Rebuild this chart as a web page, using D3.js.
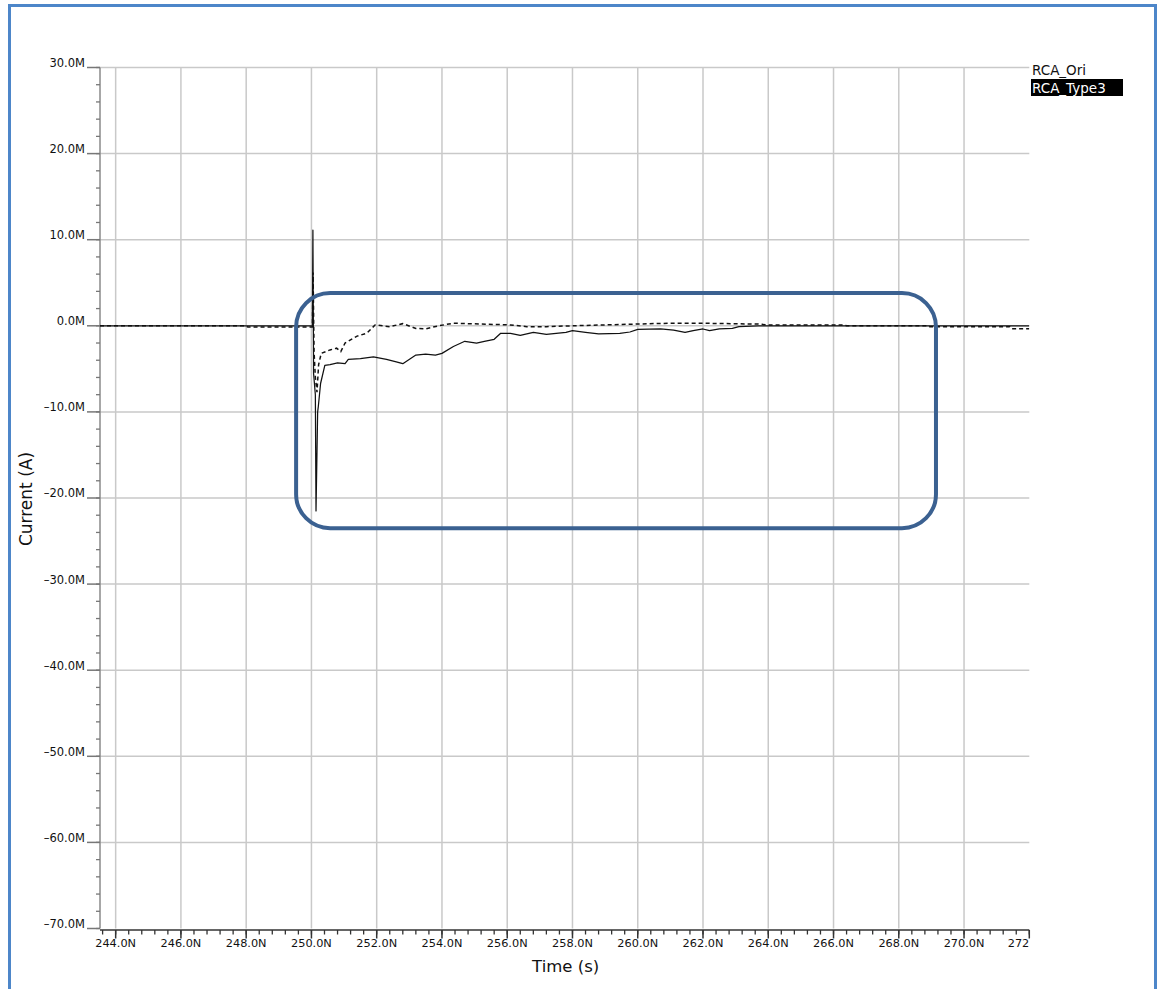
<!DOCTYPE html>
<html><head><meta charset="utf-8">
<script src="https://cdn.jsdelivr.net/npm/d3@7/dist/d3.min.js"></script>
<style>
html,body{margin:0;padding:0;background:#fff;}
svg{display:block;font-family:"DejaVu Sans",sans-serif;}
</style></head>
<body><svg id="chart" width="1159" height="989"></svg>
<script>
// ---- data (time in ns, current in mA shown as "M") ----
const seriesNames = ["RCA_Ori", "RCA_Type3"];
const xTickValues = [244,246,248,250,252,254,256,258,260,262,264,266,268,270,272];
const xTickLabels = ["244.0N","246.0N","248.0N","250.0N","252.0N","254.0N","256.0N","258.0N","260.0N","262.0N","264.0N","266.0N","268.0N","270.0N","272"];
const yTickValues = [30,20,10,0,-10,-20,-30,-40,-50,-60,-70];
const yTickLabels = ["30.0M","20.0M","10.0M","0.0M","\u201310.0M","\u201320.0M","\u201330.0M","\u201340.0M","\u201350.0M","\u201360.0M","\u201370.0M"];
const oriTime = [243.52,250.03,250.045,250.065,250.12,250.14,250.19,250.21,250.28,250.41,250.57,250.8,251.03,251.13,251.5,251.9,252.3,252.6,252.8,253.2,253.5,253.8,254.0,254.35,254.7,255.06,255.3,255.6,255.8,256.1,256.4,256.8,257.2,257.8,258.0,258.4,258.8,259.45,259.76,260.0,260.7,261.1,261.45,261.7,262.0,262.2,262.5,262.9,263.1,263.7,272];
const oriValue = [0,0,11.1,-5.5,-8,-21.5,-10,-9.4,-6.7,-4.6,-4.5,-4.3,-4.4,-3.9,-3.8,-3.6,-3.9,-4.2,-4.4,-3.4,-3.3,-3.4,-3.2,-2.4,-1.8,-2.0,-1.8,-1.57,-0.87,-0.87,-1.1,-0.76,-1.0,-0.76,-0.57,-0.76,-0.95,-0.87,-0.72,-0.41,-0.37,-0.5,-0.76,-0.57,-0.37,-0.57,-0.37,-0.3,-0.1,0,0];
const type3Time = [243.52,248.0,248.05,250.0,250.03,250.05,250.08,250.12,250.17,250.22,250.3,250.57,250.77,250.9,251.03,251.4,251.7,251.95,252.4,252.8,253.2,253.5,253.9,254.35,256.1,256.6,257.2,258.0,259.9,261.0,261.9,263.7,264.0,266.35,266.4,268.9,268.95,271.4,271.45,272];
const type3Value = [0,0,-0.15,-0.15,-0.15,6.2,-3,-6,-7.7,-4.5,-3.2,-2.8,-2.6,-3.0,-2.0,-1.2,-0.85,0.1,-0.1,0.25,-0.3,-0.35,0,0.3,0.1,-0.1,-0.1,0,0.2,0.3,0.3,0.2,0.1,0.1,0,0,-0.12,-0.12,-0.35,-0.35];
// highlighted region (data units)
const boxTime = [249.53, 269.14];
const boxValue = [3.8, -23.5];

const svg = d3.select("#chart");
const W = 1159, H = 989;
const plot = {left:100, right:1029.3, top:67.5, bottom:928.5};

const x = d3.scaleLinear().domain([243.52, 272]).range([plot.left, plot.right]);
const y = d3.scaleLinear().domain([30, -70]).range([plot.top, plot.bottom]);

// frame
svg.append("rect").attr("x",0).attr("y",0).attr("width",W).attr("height",H).attr("fill","#fff");
svg.append("rect").attr("x",9.5).attr("y",5.5).attr("width",1146).attr("height",1000)
  .attr("fill","none").attr("stroke","#4d86c9").attr("stroke-width",3);

// grid
const grid = svg.append("g");
grid.selectAll("line.v").data(xTickValues.filter(d=>d<272)).enter().append("line")
  .attr("x1",d=>x(d)).attr("x2",d=>x(d)).attr("y1",plot.top).attr("y2",plot.bottom)
  .attr("stroke","#c9c9c9").attr("stroke-width",1.5);
grid.selectAll("line.h").data(yTickValues.filter(d=>d>-70)).enter().append("line")
  .attr("x1",plot.left).attr("x2",plot.right).attr("y1",d=>y(d)).attr("y2",d=>y(d))
  .attr("stroke","#c9c9c9").attr("stroke-width",1.5);

// y axis
const yAxis = svg.append("g");
yAxis.append("line").attr("x1",plot.left).attr("x2",plot.left).attr("y1",plot.top).attr("y2",plot.bottom)
  .attr("stroke","#8a8a8a").attr("stroke-width",1.5);
yAxis.selectAll("line.minor").data(d3.range(30,-70.01,-2)).enter().append("line")
  .attr("x1",plot.left-4).attr("x2",plot.left).attr("y1",d=>y(d)).attr("y2",d=>y(d))
  .attr("stroke","#777").attr("stroke-width",1.3);
yAxis.selectAll("line.major").data(yTickValues).enter().append("line")
  .attr("x1",plot.left-13).attr("x2",plot.left).attr("y1",d=>y(d)).attr("y2",d=>y(d))
  .attr("stroke","#777").attr("stroke-width",1.5);
yAxis.selectAll("text").data(yTickValues).enter().append("text")
  .attr("x",plot.left-15).attr("y",d=>y(d)).attr("dy","-0.05em")
  .attr("text-anchor","end").attr("font-size",11.5).attr("fill","#111")
  .text((d,i)=>yTickLabels[i]);

// x axis
const xAxis = svg.append("g");
const xAxisY = plot.bottom + 1.5;
xAxis.append("line").attr("x1",plot.left).attr("x2",plot.right).attr("y1",xAxisY).attr("y2",xAxisY)
  .attr("stroke","#333").attr("stroke-width",1.5);
xAxis.selectAll("line.minor").data(d3.range(243.6,272.01,0.4)).enter().append("line")
  .attr("x1",d=>x(d)).attr("x2",d=>x(d)).attr("y1",xAxisY).attr("y2",xAxisY+4.5)
  .attr("stroke","#333").attr("stroke-width",1.3);
xAxis.selectAll("line.major").data(xTickValues).enter().append("line")
  .attr("x1",d=>x(d)).attr("x2",d=>x(d)).attr("y1",xAxisY).attr("y2",xAxisY+8.5)
  .attr("stroke","#333").attr("stroke-width",1.5);
xAxis.selectAll("text").data(xTickValues).enter().append("text")
  .attr("x",d=>x(d))
  .attr("y",xAxisY+17)
  .attr("text-anchor",(d,i)=> i===xTickValues.length-1 ? "end" : "middle")
  .attr("font-size",11.3).attr("fill","#111")
  .text((d,i)=>xTickLabels[i]);

// axis titles
svg.append("text").attr("x",(plot.left+plot.right)/2+1).attr("y",972)
  .attr("text-anchor","middle").attr("font-size",16.5).attr("fill","#111").text("Time (s)");
svg.append("text").attr("transform","translate(32,"+((plot.top+plot.bottom)/2+1)+") rotate(-90)")
  .attr("text-anchor","middle").attr("font-size",17).attr("fill","#111").text("Current (A)");

// clip
svg.append("clipPath").attr("id","clip").append("rect")
  .attr("x",plot.left).attr("y",plot.top).attr("width",plot.right-plot.left).attr("height",plot.bottom-plot.top);

const line = d3.line().x(d=>x(d[0])).y(d=>y(d[1]));
const oriData = oriTime.map((t,i)=>[t,oriValue[i]]);
const type3Data = type3Time.map((t,i)=>[t,type3Value[i]]);

const lines = svg.append("g").attr("clip-path","url(#clip)");
lines.append("path").datum(type3Data).attr("d",line).attr("fill","none")
  .attr("stroke","#111").attr("stroke-width",1.5).attr("stroke-dasharray","4,3");
lines.append("path").datum(oriData).attr("d",line).attr("fill","none")
  .attr("stroke","#111").attr("stroke-width",1.25).attr("stroke-linejoin","round");

// annotation box
svg.append("rect")
  .attr("x",x(boxTime[0])).attr("y",y(boxValue[0]))
  .attr("width",x(boxTime[1])-x(boxTime[0])).attr("height",y(boxValue[1])-y(boxValue[0]))
  .attr("rx",34).attr("ry",34)
  .attr("fill","none").attr("stroke","#3b6191").attr("stroke-width",4);

// legend
const lg = svg.append("g");
lg.append("text").attr("x",1032).attr("y",74.5).attr("font-size",13.5).attr("fill","#111").text(seriesNames[0]);
lg.append("rect").attr("x",1031).attr("y",79).attr("width",92).attr("height",17).attr("fill","#000");
lg.append("text").attr("x",1032).attr("y",92.5).attr("font-size",13.5).attr("fill","#fff").text(seriesNames[1]);
</script>
</body></html>
